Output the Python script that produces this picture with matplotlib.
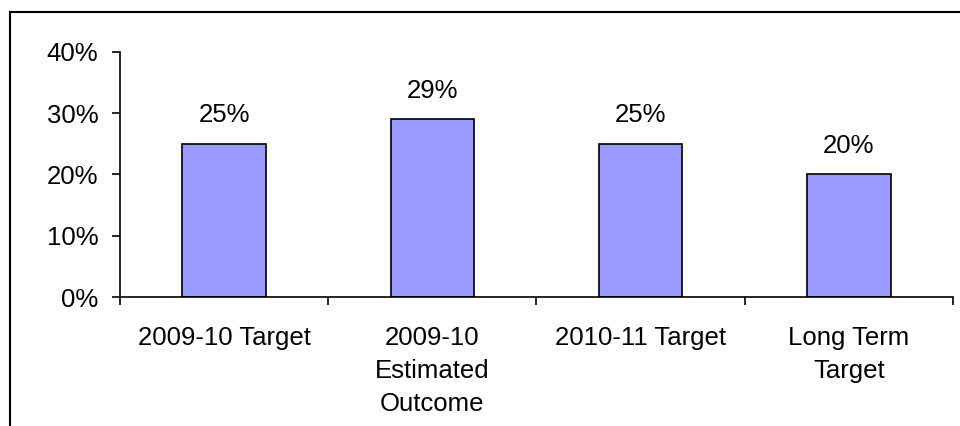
import matplotlib.pyplot as plt
from matplotlib.lines import Line2D
from matplotlib.ticker import FuncFormatter

categories = ["2009-10 Target", "2009-10\nEstimated\nOutcome", "2010-11 Target", "Long Term\nTarget"]
values = [25, 29, 25, 20]
yticks = [0, 10, 20, 30, 40]

plt.rcParams['font.family'] = ['Liberation Sans', 'DejaVu Sans']

fig = plt.figure(figsize=(9.6, 4.26), dpi=100)
ax = fig.add_axes([0.125, 0.3028, 0.8677, 0.5752])

x = list(range(len(categories)))
ax.bar(x, values, width=0.4, color='#9999FF', edgecolor='black', linewidth=1.2, zorder=2)

for xi, v in zip(x, values):
    ax.annotate(f"{v}%", (xi, v), xytext=(0, 12), textcoords='offset points',
                ha='center', va='bottom', fontsize=18.5)

ax.set_xlim(-0.5, len(categories) - 0.5)
ax.set_ylim(0, 40)
ax.set_yticks(yticks)
ax.yaxis.set_major_formatter(FuncFormatter(lambda v, p: f"{v:.0f}%"))

# category labels in the middle, ticks at the boundaries
ax.set_xticks([i - 0.5 for i in range(len(categories) + 1)])
ax.set_xticklabels([])
ax.set_xticks(x, minor=True)
ax.set_xticklabels(categories, minor=True, fontsize=18.5, linespacing=1.46, va='top')
ax.tick_params(axis='x', which='minor', length=0, pad=21)
ax.tick_params(axis='x', which='major', length=6, width=1.2, direction='out')
ax.tick_params(axis='y', length=6, width=1.2, direction='out', labelsize=18.5, pad=9.5)

for s in ['top', 'right']:
    ax.spines[s].set_visible(False)
for s in ['left', 'bottom']:
    ax.spines[s].set_linewidth(1.2)

# outer frame (left and top edges only visible)
fig.add_artist(Line2D([10 / 960, 10 / 960], [0, 1 - 12 / 426], color='black', linewidth=1.5))
fig.add_artist(Line2D([10 / 960, 1], [1 - 12 / 426, 1 - 12 / 426], color='black', linewidth=1.5))

fig.savefig('out.png', dpi=100)
